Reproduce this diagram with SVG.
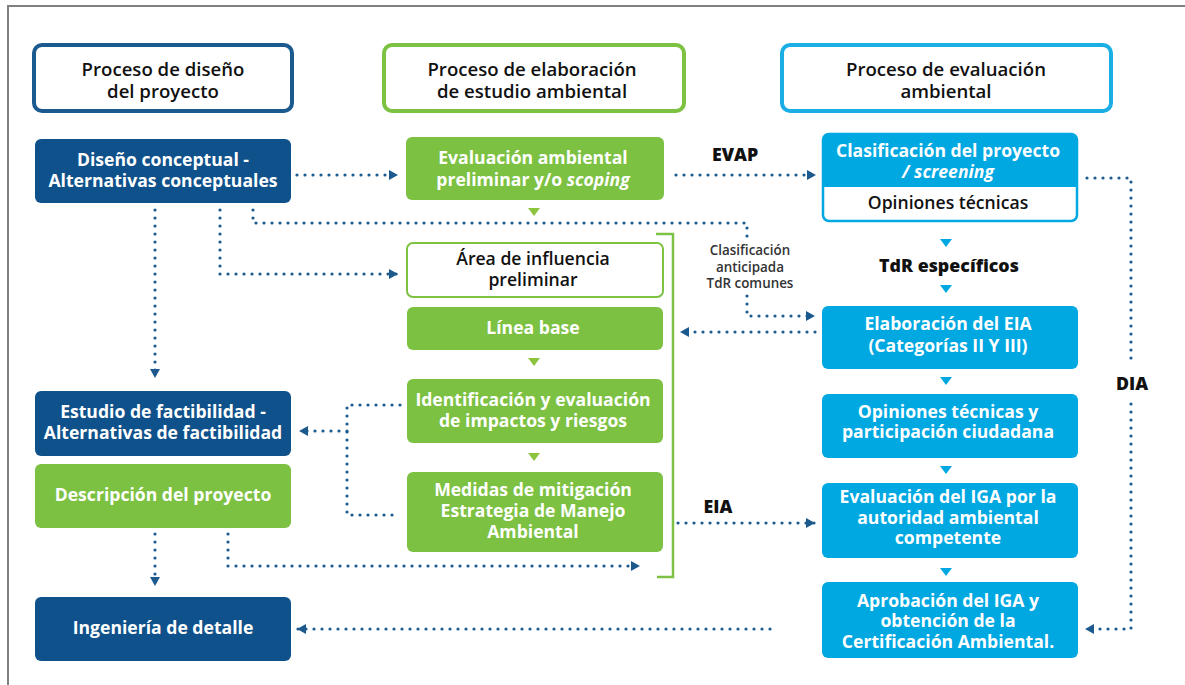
<svg xmlns="http://www.w3.org/2000/svg" width="1185" height="685" viewBox="0 0 1185 685">
<defs>
<style>
.t{font-family:"Open Sans","Noto Sans","Liberation Sans",sans-serif;text-anchor:middle}
.w{fill:#fff;font-size:17.6px;font-weight:700}
.k{fill:#111;font-size:17.6px;font-weight:600}
.h{fill:#111;font-size:18.6px;font-weight:600}
.lb{fill:#111;font-size:17.8px;font-weight:800}
.sm{fill:#333;font-size:13.4px;font-weight:600}
.db{fill:#0f518a}
.gr{fill:#7dc142}
.lbl{fill:#00a8e2}
.dot{fill:none;stroke:#1c5a8e;stroke-width:3.2;stroke-linecap:round;stroke-dasharray:0 8}
.gt{fill:#8cc43f}
.bt{fill:#00a8e2}
</style>
<marker id="ah" viewBox="0 0 9 10" refX="9" refY="5" markerWidth="9" markerHeight="10" markerUnits="userSpaceOnUse" orient="auto">
<path d="M0,0 L9,5 L0,10 z" fill="#1c5a8e"/>
</marker>
</defs>
<rect width="1185" height="685" fill="#fff"/>
<path d="M8,685 V6 H1185" fill="none" stroke="#808080" stroke-width="2"/>

<g id="header-diseno">
<rect x="34" y="45" width="258" height="66" rx="8" fill="#fff" stroke="#1b5a8f" stroke-width="4"/>
<text class="t h" x="163" y="76">Proceso de diseño</text>
<text class="t h" x="163" y="98">del proyecto</text>
</g>
<g id="header-elaboracion">
<rect x="384" y="45" width="300" height="66" rx="8" fill="#fff" stroke="#7dc242" stroke-width="4"/>
<text class="t h" x="532" y="76">Proceso de elaboración</text>
<text class="t h" x="532" y="98">de estudio ambiental</text>
</g>
<g id="header-evaluacion">
<rect x="782" y="45" width="329" height="66" rx="8" fill="#fff" stroke="#1aaee5" stroke-width="4"/>
<text class="t h" x="946" y="76">Proceso de evaluación</text>
<text class="t h" x="946" y="98">ambiental</text>
</g>

<g id="connectors">
<path class="dot" d="M297,175 H398" marker-end="url(#ah)"/>
<path class="dot" d="M676,175 H816" marker-end="url(#ah)"/>
<path class="dot" d="M220,210 V274 H398" marker-end="url(#ah)"/>
<path class="dot" d="M155,210 V378" marker-end="url(#ah)"/>
<path class="dot" d="M253,210 V223 H747 V238"/>
<path class="dot" d="M747,296 V316 H815" marker-end="url(#ah)"/>
<path class="dot" d="M815,332 H680" marker-end="url(#ah)"/>
<path class="dot" d="M400,405 H347 V515 H400"/>
<path class="dot" d="M347,431 H299" marker-end="url(#ah)"/>
<path class="dot" d="M678,523 H815" marker-end="url(#ah)"/>
<path class="dot" d="M155,534 V586" marker-end="url(#ah)"/>
<path class="dot" d="M228,534 V566 H640" marker-end="url(#ah)"/>
<path class="dot" d="M770,629 H297" marker-end="url(#ah)"/>
<path class="dot" d="M1087,178 H1131 V362"/>
<path class="dot" d="M1131,404 V629 H1085" marker-end="url(#ah)"/>
<path d="M656,234 H673 V577 H657" fill="none" stroke="#7dc242" stroke-width="2.5"/>
<polygon class="gt" points="528,208 540,208 534,216"/>
<polygon class="gt" points="528,358 540,358 534,366"/>
<polygon class="gt" points="528,453 540,453 534,461"/>
<polygon class="bt" points="940,239 952,239 946,247"/>
<polygon class="bt" points="940,285 952,285 946,293"/>
<polygon class="bt" points="940,377 952,377 946,385"/>
<polygon class="bt" points="940,466 952,466 946,474"/>
<polygon class="bt" points="940,568 952,568 946,576"/>
<text class="t lb" x="735" y="161">EVAP</text>
<text class="t sm" x="750" y="255">Clasificación</text>
<text class="t sm" x="750" y="272">anticipada</text>
<text class="t sm" x="750" y="288">TdR comunes</text>
<text class="t lb" x="718" y="513">EIA</text>
<text class="t lb" x="1132" y="390">DIA</text>
<text class="t lb" x="949" y="272">TdR específicos</text>
</g>

<g id="diseno-conceptual">
<rect class="db" x="35" y="139" width="256" height="64" rx="6"/>
<text class="t w" x="163" y="166">Diseño conceptual -</text>
<text class="t w" x="163" y="187">Alternativas conceptuales</text>
</g>
<g id="evaluacion-preliminar">
<rect class="gr" x="406" y="137" width="258" height="63" rx="6"/>
<text class="t w" x="533" y="164">Evaluación ambiental</text>
<text class="t w" x="533" y="186">preliminar y/o <tspan font-style="italic">scoping</tspan></text>
</g>
<g id="clasificacion">
<rect x="823" y="134" width="254" height="87" rx="6" fill="#fff" stroke="#00a8e2" stroke-width="2.5"/>
<path d="M823,187 V140 a6,6 0 0 1 6,-6 H1071 a6,6 0 0 1 6,6 V187 z" fill="#00a8e2"/>
<text class="t w" x="948" y="157">Clasificación del proyecto</text>
<text class="t w" x="948" y="178" font-style="italic">/ screening</text>
<text class="t k" x="948" y="209">Opiniones técnicas</text>
</g>
<g id="area-influencia">
<rect x="407" y="243" width="256" height="54" rx="6" fill="#fff" stroke="#7dc242" stroke-width="2"/>
<text class="t k" x="533" y="265">Área de influencia</text>
<text class="t k" x="533" y="286">preliminar</text>
</g>
<g id="linea-base">
<rect class="gr" x="407" y="307" width="256" height="43" rx="6"/>
<text class="t w" x="533" y="334">Línea base</text>
</g>
<g id="identificacion">
<rect class="gr" x="407" y="379" width="256" height="64" rx="6"/>
<text class="t w" x="533" y="406">Identificación y evaluación</text>
<text class="t w" x="533" y="427">de impactos y riesgos</text>
</g>
<g id="medidas">
<rect class="gr" x="407" y="472" width="256" height="80" rx="6"/>
<text class="t w" x="533" y="496">Medidas de mitigación</text>
<text class="t w" x="533" y="517">Estrategia de Manejo</text>
<text class="t w" x="533" y="538">Ambiental</text>
</g>
<g id="estudio-factibilidad">
<rect class="db" x="35" y="391" width="256" height="65" rx="6"/>
<text class="t w" x="163" y="418">Estudio de factibilidad -</text>
<text class="t w" x="163" y="439">Alternativas de factibilidad</text>
</g>
<g id="descripcion">
<rect class="gr" x="35" y="464" width="256" height="64" rx="6"/>
<text class="t w" x="163" y="501">Descripción del proyecto</text>
</g>
<g id="ingenieria">
<rect class="db" x="35" y="597" width="256" height="64" rx="6"/>
<text class="t w" x="163" y="634">Ingeniería de detalle</text>
</g>
<g id="elaboracion-eia">
<rect class="lbl" x="822" y="306" width="256" height="63" rx="6"/>
<text class="t w" x="948" y="330">Elaboración del EIA</text>
<text class="t w" x="948" y="352">(Categorías II Y III)</text>
</g>
<g id="opiniones-participacion">
<rect class="lbl" x="822" y="394" width="256" height="64" rx="6"/>
<text class="t w" x="948" y="418">Opiniones técnicas y</text>
<text class="t w" x="948" y="438">participación ciudadana</text>
</g>
<g id="evaluacion-iga">
<rect class="lbl" x="822" y="483" width="256" height="75" rx="6"/>
<text class="t w" x="948" y="503">Evaluación del IGA por la</text>
<text class="t w" x="948" y="524">autoridad ambiental</text>
<text class="t w" x="948" y="544">competente</text>
</g>
<g id="aprobacion">
<rect class="lbl" x="822" y="582" width="256" height="76" rx="6"/>
<text class="t w" x="948" y="607">Aprobación del IGA y</text>
<text class="t w" x="948" y="627">obtención de la</text>
<text class="t w" x="948" y="648">Certificación Ambiental.</text>
</g>
</svg>
